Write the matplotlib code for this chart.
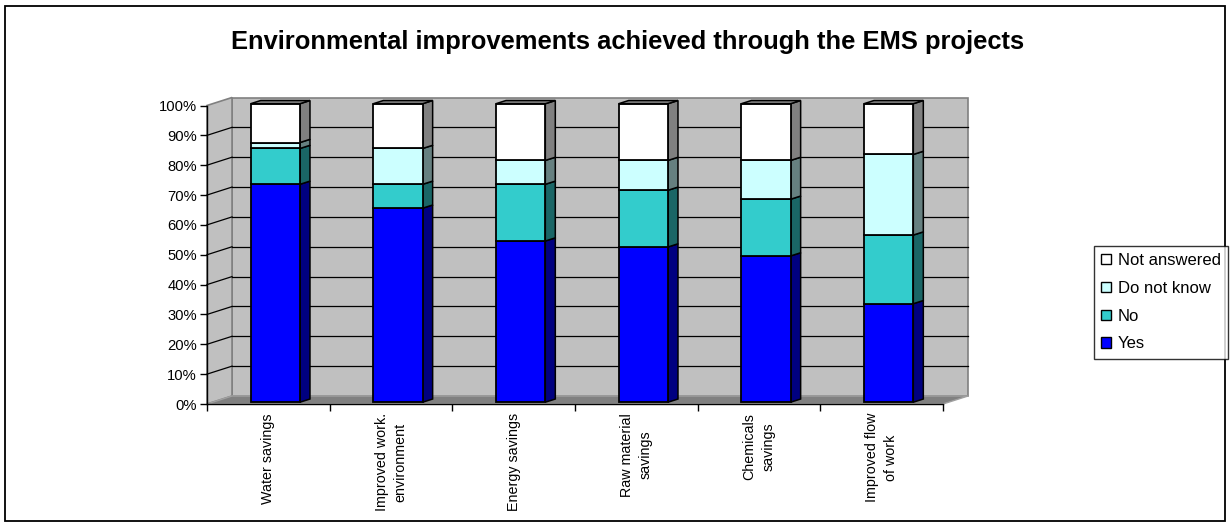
import matplotlib
matplotlib.use("Agg")
import matplotlib.pyplot as plt
from matplotlib.patches import Polygon, Rectangle, Patch
import numpy as np

# Survey answers per improvement area (percent of respondents)
categories = ["Water savings", "Improved work.\nenvironment", "Energy savings",
              "Raw material\nsavings", "Chemicals\nsavings", "Improved flow\nof work"]
yes = [73, 65, 54, 52, 49, 33]
no = [12, 8, 19, 19, 19, 23]
dont_know = [2, 12, 8, 10, 13, 27]
not_answered = [13, 15, 19, 19, 19, 17]
series_names = ["Yes", "No", "Do not know", "Not answered"]
y_ticks = list(range(0, 101, 10))
title = "Environmental improvements achieved through the EMS projects"

plt.rcParams['font.family'] = ['Liberation Sans', 'DejaVu Sans']

front_colors = ["#0000FF", "#33CCCC", "#CCFFFF", "#FFFFFF"]
side_colors = ["#000080", "#1A6666", "#668080", "#808080"]

W, H = 1230, 526
fig = plt.figure(figsize=(W / 100, H / 100), dpi=100)
ax = fig.add_axes([207 / W, 1 - 404 / H, 736 / W, (404 - 105.5) / H])

n = len(categories)
x0, x1 = -0.5, n - 0.5
ax.set_xlim(x0, x1)
ax.set_ylim(0, 100)

# pseudo-3D depth of the walls and of the bars (data units)
WDX, WDY = 0.204, 2.68
BX, BY = 0.057, 0.6
BW = 0.402
BDX, BDY = 0.0815, 1.07

wall = "#C0C0C0"
edge = "#808080"
ax.add_patch(Rectangle((x0 + WDX, WDY), x1 - x0, 100, fc=wall, ec=edge, lw=1.2,
                       clip_on=False, zorder=0))
ax.add_patch(Polygon([(x0, 0), (x0 + WDX, WDY), (x0 + WDX, 100 + WDY), (x0, 100)],
                     closed=True, fc=wall, ec=edge, lw=1.2, clip_on=False, zorder=0.5))
ax.add_patch(Polygon([(x0, 0), (x1, 0), (x1 + WDX, WDY), (x0 + WDX, WDY)],
                     closed=True, fc="#808080", ec="#A0A0A0", lw=1, clip_on=False, zorder=0.6))

for yv in y_ticks[1:-1]:
    ax.plot([x0 + WDX, x1 + WDX], [yv + WDY, yv + WDY], color="black", lw=0.9,
            clip_on=False, zorder=1)
    ax.plot([x0, x0 + WDX], [yv, yv + WDY], color="black", lw=0.9,
            clip_on=False, zorder=1)

# stacked bars: front faces through ax.bar, side and top faces as polygons
series = [yes, no, dont_know, not_answered]
xpos = np.arange(n) + BX
bottom = np.zeros(n)
for vals, fc, sc in zip(series, front_colors, side_colors):
    vals = np.asarray(vals, dtype=float)
    ax.bar(xpos, vals, width=BW, bottom=bottom + BY, color=fc, edgecolor="black",
           lw=1.3, zorder=3, clip_on=False)
    for xi, b, v in zip(xpos, bottom, vals):
        xr = xi + BW / 2
        y0, y1 = b + BY, b + v + BY
        ax.add_patch(Polygon([(xr, y0), (xr + BDX, y0 + BDY), (xr + BDX, y1 + BDY), (xr, y1)],
                             closed=True, fc=sc, ec="black", lw=1.1, zorder=2.9, clip_on=False))
    bottom += vals

for xi, top in zip(xpos, bottom):
    xl, xr = xi - BW / 2, xi + BW / 2
    yt = top + BY
    ax.add_patch(Polygon([(xl, yt), (xr, yt), (xr + BDX, yt + BDY), (xl + BDX, yt + BDY)],
                         closed=True, fc=side_colors[-1], ec="black", lw=1.1, zorder=3.1,
                         clip_on=False))

# axes
for s in ("top", "right"):
    ax.spines[s].set_visible(False)
for s in ("left", "bottom"):
    ax.spines[s].set_color("black")
    ax.spines[s].set_linewidth(1.0)
    ax.spines[s].set_zorder(4)

ax.set_yticks(y_ticks)
ax.set_yticklabels([f"{v}%" for v in y_ticks])
ax.tick_params(axis="y", direction="out", length=5, width=1, pad=2.2, labelsize=10.6)

ax.set_xticks(np.arange(n + 1) - 0.5)
ax.set_xticklabels([])
ax.tick_params(axis="x", which="major", direction="out", length=5, width=1)
ax.set_xticks(np.arange(n), minor=True)
ax.set_xticklabels(categories, minor=True, rotation=90, ha="center", va="top",
                   multialignment="center", fontsize=10.3, linespacing=1.45)
ax.tick_params(axis="x", which="minor", length=0, pad=6.5)
ax.set_facecolor("none")

fig.text(628 / W, 1 - 42 / H, title, ha="center", va="center", fontsize=18.4,
         fontweight="bold")

handles = [Patch(fc=c, ec="black", lw=1) for c in front_colors[::-1]]
leg = fig.legend(handles, series_names[::-1], loc="upper left",
                 bbox_to_anchor=(1094 / W, 1 - 246 / H), frameon=True, fancybox=False,
                 fontsize=12, handlelength=0.6, handleheight=0.6, handletextpad=0.4,
                 labelspacing=0.77, borderpad=0.42, borderaxespad=0)
leg.get_frame().set_edgecolor("black")
leg.get_frame().set_linewidth(1.0)

fig.patches.append(Rectangle((5 / W, 5 / H), 1220 / W, 515 / H, transform=fig.transFigure,
                             fill=False, ec="black", lw=1.3))

fig.savefig("out.png", dpi=100)
